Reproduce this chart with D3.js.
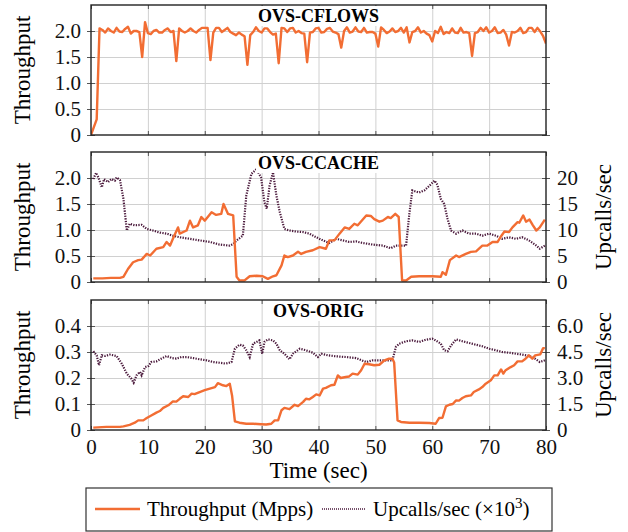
<!DOCTYPE html>
<html>
<head>
<meta charset="utf-8">
<script src="https://cdn.jsdelivr.net/npm/d3@7"></script>
<style>
  body { margin: 0; background: #fff; }
  svg, svg text { font-family: "Liberation Serif", "DejaVu Serif", serif; }
  .grid line { stroke: #d0d0d0; stroke-width: 1; }
  .grid path { display: none; }
  .ticks line { stroke: #555; stroke-width: 1; }
  .ticks path { display: none; }
  .lbl path, .lbl line { display: none; }
  .lbl text { font-size: 21px; fill: #111; font-family: "Liberation Serif", serif; }
</style>
</head>
<body>
<div id="chart"></div>
<script>
// time in seconds, throughput in Mpps
const cflowsThroughput = [
  [0,0],[0.5,0.15],[1,0.3],[1.5,2.05],[2,2.02],[2.5,1.97],[3,2.05],[3.5,2.0],[4,1.97],[4.5,2.06],
  [5,1.99],[5.5,1.98],[6,2.04],[6.5,2.08],[7,1.95],[7.5,2.0],[8,2.0],[8.5,1.98],[9,1.5],[9.5,2.17],
  [10,1.96],[10.5,1.94],[11,2.0],[11.5,2.02],[12,1.97],[12.5,1.97],[13,2.02],[13.5,2.05],[14,1.98],[14.5,2.0],
  [15,1.42],[15.5,2.05],[16,2.0],[16.5,1.97],[17,2.0],[17.5,2.05],[18,2.0],[18.5,1.97],[19,2.02],[19.5,2.06],
  [20,2.06],[20.5,2.06],[21,1.44],[21.5,1.97],[22,2.06],[22.5,2.06],[23,1.98],[23.5,2.02],[24,2.06],[24.5,1.98],
  [25,1.95],[25.5,1.92],[26,1.97],[26.5,1.93],[27,1.9],[27.5,1.35],[28,1.92],[28.5,1.98],[29,2.07],[29.5,2.0],
  [30,1.97],[30.5,2.05],[31,2.05],[31.5,1.98],[32,1.93],[32.5,1.95],[33,1.38],[33.5,2.06],[34,2.05],[34.5,1.98],
  [35,2.05],[35.5,2.06],[36,1.97],[36.5,2.0],[37,1.96],[37.5,1.95],[38,1.4],[38.5,1.97],[39,1.98],[39.5,2.05],
  [40,2.06],[40.5,1.97],[41,1.98],[41.5,2.04],[42,2.06],[42.5,1.99],[43,1.97],[43.5,1.94],[44,1.68],[44.5,2.0],
  [45,2.07],[45.5,1.97],[46,1.99],[46.5,2.07],[47,1.99],[47.5,1.98],[48,2.06],[48.5,1.97],[49,1.98],[49.5,1.98],
  [50,1.95],[50.5,1.7],[51,2.07],[51.5,2.02],[52,1.96],[52.5,1.99],[53,2.05],[53.5,1.98],[54,2.0],[54.5,2.06],
  [55,1.97],[55.5,2.07],[56,1.78],[56.5,1.98],[57,2.0],[57.5,2.07],[58,1.97],[58.5,2.0],[59,1.95],[59.5,1.92],
  [60,1.8],[60.5,2.0],[61,1.96],[61.5,2.08],[62,1.94],[62.5,1.98],[63,1.96],[63.5,2.05],[64,1.97],[64.5,1.96],
  [65,2.06],[65.5,1.97],[66,1.98],[66.5,1.96],[67,1.52],[67.5,1.96],[68,1.98],[68.5,2.06],[69,2.0],[69.5,2.07],
  [70,1.97],[70.5,2.0],[71,2.07],[71.5,1.96],[72,1.97],[72.5,2.02],[73,1.93],[73.5,1.72],[74,1.98],[74.5,1.97],
  [75,2.0],[75.5,2.06],[76,1.96],[76.5,1.98],[77,2.06],[77.5,2.06],[78,1.98],[78.5,2.06],[79,1.99],[79.5,1.9],
  [80,1.76]
];

const ccacheThroughput = [
  [0.4,0.07],[2,0.07],[3.5,0.08],[5.1,0.08],[5.7,0.1],[6.5,0.25],[7.4,0.38],[8.3,0.42],[8.9,0.43],[9.8,0.54],
  [10.4,0.51],[11.5,0.64],[12.7,0.67],[13.3,0.77],[13.9,0.7],[14.4,0.83],[15.3,1.05],[15.6,0.93],[16.8,0.99],[17.4,1.18],
  [17.95,1.05],[18.8,1.09],[19.4,1.25],[20,1.18],[21.2,1.34],[22,1.29],[22.9,1.31],[23.3,1.5],[24.1,1.31],[25,1.28],
  [25.6,0.1],[26.1,0.03],[27,0.03],[27.9,0.11],[29.1,0.12],[30.2,0.11],[31.1,0.06],[32,0.11],[32.6,0.13],[33.5,0.32],
  [34,0.51],[34.6,0.48],[35.5,0.51],[36.4,0.58],[36.96,0.54],[37.8,0.58],[39,0.61],[40.2,0.67],[41.3,0.64],[41.9,0.8],
  [42.8,0.8],[43.7,0.93],[44.6,1.05],[45.4,1.02],[46.3,1.12],[46.9,1.09],[48.4,1.28],[49.2,1.27],[49.8,1.21],[50.7,1.16],
  [51.3,1.18],[52.2,1.25],[52.7,1.23],[53.5,1.31],[54.1,1.25],[54.7,0.03],[55.4,0.03],[56.3,0.1],[57.7,0.11],[58.9,0.11],
  [60,0.11],[61.5,0.1],[61.8,0.19],[62.4,0.14],[63.1,0.42],[64.2,0.51],[64.7,0.48],[65.9,0.54],[66.8,0.58],[67.7,0.59],
  [68.8,0.7],[69.7,0.7],[70.6,0.77],[71.5,0.77],[72.1,0.88],[72.7,0.97],[73.5,0.96],[74.1,1.05],[75,1.15],[75.3,1.14],
  [76,1.28],[76.5,1.16],[77.1,1.2],[77.7,1.09],[78.3,0.99],[78.9,1.05],[79.8,1.2]
];

// upcalls in thousands per second
const ccacheUpcalls = [
  [0.4,19.8],[0.9,21],[1.3,20.1],[1.9,18.2],[2.3,19.8],[3,19.2],[3.6,19.8],[4.2,19.5],[4.5,20.1],[5.1,19.6],
  [5.7,16],[6.3,9.9],[6.8,11.2],[7.7,10.9],[8.9,11],[9.8,10.2],[10.9,9.9],[12.1,9.5],[13.3,9.3],[14.4,8.9],
  [15.6,8.6],[17.4,8.3],[19.1,8],[20.9,7.7],[22.6,7.2],[24.4,7.0],[25,7.3],[25.6,8],[26.7,8.9],[27.3,16.6],
  [28.2,20.8],[29.1,21.7],[29.9,20.1],[30.5,15.3],[30.9,14.1],[31.4,18.5],[32,21.1],[32.6,16.6],[33.2,13.4],[34,10.2],
  [34.9,9.9],[36.1,9.7],[37.3,9.6],[38.4,9.3],[39.6,8.6],[40.8,8],[41.9,7.5],[43.1,8.3],[44.3,8],[45.4,7.7],
  [46.6,7.8],[47.8,7.5],[49.5,7.2],[51.3,7.0],[52.7,6.5],[53.6,7.0],[55.4,7.0],[56,13.4],[56.5,17.6],[57.1,17.4],
  [57.7,17.2],[58.6,17.6],[59.5,18.5],[60.4,19.5],[60.9,18.7],[61.5,16],[62.1,15],[62.7,12.1],[63.3,9.9],[64.2,9.3],
  [65.3,9.9],[66.5,9.3],[67.7,9.3],[68.8,8.9],[70,9.3],[71.2,8.9],[72.3,8.3],[73.5,8.6],[74.7,8.3],[75.8,8.6],
  [77,8],[78.3,7.0],[78.9,6.4],[79.8,7.0]
];

const origThroughput = [
  [0.4,0.009],[2.7,0.012],[5.1,0.012],[5.7,0.014],[6.8,0.02],[7.7,0.028],[8.3,0.037],[9.2,0.037],[9.8,0.046],[10.6,0.056],
  [11.5,0.067],[12.1,0.073],[12.7,0.085],[13.6,0.095],[14.4,0.11],[15,0.109],[15.6,0.12],[16.2,0.13],[17.1,0.127],[17.7,0.14],
  [18.2,0.138],[19.1,0.146],[20,0.153],[20.9,0.159],[21.8,0.165],[22.3,0.18],[23.2,0.172],[23.8,0.169],[24.4,0.178],[24.8,0.133],
  [25.3,0.033],[26.1,0.028],[27.3,0.024],[28.5,0.024],[29.9,0.022],[30.8,0.021],[31.7,0.024],[32.3,0.037],[32.9,0.037],[33.5,0.076],
  [34,0.085],[34.9,0.08],[35.8,0.097],[36.4,0.092],[37.3,0.108],[37.8,0.12],[38.4,0.118],[39,0.127],[39.6,0.137],[40.2,0.133],
  [40.8,0.159],[41.3,0.162],[42.2,0.172],[42.8,0.174],[43.4,0.21],[43.9,0.2],[44.8,0.204],[45.4,0.206],[46,0.217],[46.9,0.213],
  [47.5,0.23],[48.1,0.255],[48.9,0.253],[49.8,0.249],[50.7,0.251],[51.6,0.268],[52.4,0.274],[53,0.274],[53.3,0.26],[53.9,0.037],
  [54.5,0.031],[56,0.028],[57.7,0.028],[59.5,0.027],[60.6,0.024],[61.2,0.046],[61.8,0.047],[62.4,0.091],[63,0.097],[63.6,0.1],
  [64.2,0.114],[64.7,0.113],[65.3,0.123],[65.9,0.13],[66.8,0.133],[67.3,0.146],[68.2,0.156],[68.8,0.165],[69.4,0.178],[70.3,0.191],
  [70.9,0.21],[71.5,0.21],[72.1,0.233],[72.5,0.217],[72.9,0.23],[73.8,0.242],[74.4,0.249],[75,0.264],[75.8,0.264],[76.4,0.274],
  [77,0.287],[77.6,0.274],[78.1,0.287],[79,0.291],[79.5,0.315],[79.8,0.315]
];

const origUpcalls = [
  [0.4,4.54],[1,4.31],[1.4,3.73],[1.9,4.31],[2.5,4.27],[3.3,4.35],[4.5,4.27],[5.4,3.83],[6.3,3.25],[7.1,2.96],
  [7.5,2.73],[8,3.15],[8.6,3.35],[8.9,3.15],[9.5,3.63],[10.1,3.69],[10.6,3.92],[11.5,3.96],[12.4,4.12],[13.3,4.27],
  [14.2,4.15],[15,4.12],[15.9,4.21],[16.8,4.21],[18,4.15],[19.1,4.08],[20.3,4.02],[21.5,3.92],[22.6,3.88],[23.7,3.83],
  [24.7,3.92],[25.3,4.69],[26.1,4.92],[26.7,4.88],[27.3,4.6],[27.9,4.21],[28.5,4.98],[29.1,5.08],[29.6,5.17],[30.1,4.4],
  [30.5,5.08],[31.1,5.23],[32,5.17],[32.6,4.98],[33.2,4.6],[34,4.4],[34.9,4.08],[35.5,4.4],[36.7,4.69],[37.8,4.6],
  [39,4.46],[39.9,4.21],[40.5,4.4],[41.6,4.31],[43.1,4.25],[44.8,4.21],[46.6,4.15],[48.4,3.92],[49.5,4.02],[51.3,4.02],
  [53,4.02],[53.6,4.79],[54.2,4.98],[55.4,5.12],[56.5,5.17],[57.7,5.08],[58.9,5.21],[60,5.27],[60.6,5.17],[61.5,4.98],
  [62.1,4.6],[62.7,4.54],[63.3,4.88],[64.2,5.23],[65.3,5.12],[66.5,5.02],[67.7,4.92],[68.8,4.83],[70,4.69],[71.2,4.6],
  [72.3,4.5],[73.5,4.46],[74.7,4.4],[75.8,4.35],[77,4.27],[77.9,4.15],[78.9,3.92],[79.8,4.02]
];

const xTicks = [0, 10, 20, 30, 40, 50, 60, 70, 80];
const leftTicksBig = [0, 0.5, 1.0, 1.5, 2.0];
const leftTickLabelsBig = ["0", "0.5", "1.0", "1.5", "2.0"];
const leftTicksSmall = [0, 0.1, 0.2, 0.3, 0.4];
const leftTickLabelsSmall = ["0", "0.1", "0.2", "0.3", "0.4"];
const rightTicksCcache = [0, 5, 10, 15, 20];
const rightTickLabelsCcache = ["0", "5", "10", "15", "20"];
const rightTicksOrig = [0, 1.5, 3.0, 4.5, 6.0];
const rightTickLabelsOrig = ["0", "1.5", "3.0", "4.5", "6.0"];

const orange = "#f26d33";
const purple = "#4b1a3c";

let svg = d3.select("#chart").append("svg")
    .attr("width", 628)
    .attr("height", 532);

let left = 91, right = 546, plotH = 130;
let x = d3.scaleLinear().domain([0, 80]).range([left, right]);

let panels = [
    {title: "OVS-CFLOWS", top: 5, yMax: 2.5, ticks: leftTicksBig, labels: leftTickLabelsBig,
     thr: cflowsThroughput, up: null},
    {title: "OVS-CCACHE", top: 152, yMax: 2.5, ticks: leftTicksBig, labels: leftTickLabelsBig,
     thr: ccacheThroughput, up: ccacheUpcalls, upMax: 25, rTicks: rightTicksCcache, rLabels: rightTickLabelsCcache},
    {title: "OVS-ORIG", top: 300, yMax: 0.5, ticks: leftTicksSmall, labels: leftTickLabelsSmall,
     thr: origThroughput, up: origUpcalls, upMax: 7.5, rTicks: rightTicksOrig, rLabels: rightTickLabelsOrig}
];

panels.forEach((p, i) => {
    let y = d3.scaleLinear().domain([0, p.yMax]).range([p.top + plotH, p.top]);
    let g = svg.append("g");
    let bottom = p.top + plotH;

    g.append("clipPath").attr("id", "clip" + i)
        .append("rect").attr("x", left).attr("y", p.top).attr("width", right - left).attr("height", plotH);

    // grid
    g.append("g").attr("class", "grid")
        .attr("transform", "translate(0," + bottom + ")")
        .call(d3.axisBottom(x).tickValues(xTicks.slice(1, -1)).tickSize(-plotH).tickFormat(""));
    g.append("g").attr("class", "grid")
        .attr("transform", "translate(" + left + ",0)")
        .call(d3.axisLeft(y).tickValues(p.ticks.slice(1)).tickSize(-(right - left)).tickFormat(""));

    // small tick marks, inside and outside
    g.append("g").attr("class", "ticks").attr("transform", "translate(" + left + ",0)")
        .call(d3.axisLeft(y).tickValues(p.ticks).tickSize(4).tickFormat(""));
    g.append("g").attr("class", "ticks").attr("transform", "translate(" + right + ",0)")
        .call(d3.axisRight(y).tickValues(p.ticks).tickSize(4).tickFormat(""));
    g.append("g").attr("class", "ticks").attr("transform", "translate(" + left + ",0)")
        .call(d3.axisLeft(y).tickValues(p.ticks).tickSize(-4).tickFormat(""));
    g.append("g").attr("class", "ticks").attr("transform", "translate(" + right + ",0)")
        .call(d3.axisRight(y).tickValues(p.ticks).tickSize(-4).tickFormat(""));
    g.append("g").attr("class", "ticks").attr("transform", "translate(0," + bottom + ")")
        .call(d3.axisBottom(x).tickValues(xTicks).tickSize(-4).tickFormat(""));
    g.append("g").attr("class", "ticks").attr("transform", "translate(0," + p.top + ")")
        .call(d3.axisTop(x).tickValues(xTicks).tickSize(-4).tickFormat(""));

    // left labels
    g.append("g").attr("class", "lbl").attr("transform", "translate(" + left + ",0)")
        .call(d3.axisLeft(y).tickValues(p.ticks).tickSize(0).tickPadding(10)
            .tickFormat((d, k) => p.labels[k]));

    g.append("text")
        .attr("transform", "translate(30," + (p.top + plotH / 2) + ") rotate(-90)")
        .attr("text-anchor", "middle")
        .style("font-size", "23px")
        .text("Throughput");

    let line = d3.line().x(d => x(d[0])).y(d => y(d[1]));

    if (p.up) {
        let yr = d3.scaleLinear().domain([0, p.upMax]).range([bottom, p.top]);
        g.append("g").attr("class", "lbl").attr("transform", "translate(" + right + ",0)")
            .call(d3.axisRight(yr).tickValues(p.rTicks).tickSize(0).tickPadding(11)
                .tickFormat((d, k) => p.rLabels[k]));
        g.append("text")
            .attr("transform", "translate(611," + (p.top + plotH / 2) + ") rotate(-90)")
            .attr("text-anchor", "middle")
            .style("font-size", "23px")
            .text("Upcalls/sec");
        let upLine = d3.line().x(d => x(d[0])).y(d => yr(d[1]));
        g.append("path")
            .datum(p.up)
            .attr("clip-path", "url(#clip" + i + ")")
            .attr("fill", "none")
            .attr("stroke", purple)
            .attr("stroke-width", 2.2)
            .attr("stroke-dasharray", "1.3,1.3")
            .attr("d", upLine);
    }

    g.append("path")
        .datum(p.thr)
        .attr("clip-path", "url(#clip" + i + ")")
        .attr("fill", "none")
        .attr("stroke", orange)
        .attr("stroke-width", 2.4)
        .attr("stroke-linejoin", "round")
        .attr("d", line);

    // title on a white box
    let tg = g.append("g");
    let box = tg.append("rect").attr("fill", "#fff");
    let t = tg.append("text")
        .attr("x", (left + right) / 2)
        .attr("y", p.top + 17)
        .attr("text-anchor", "middle")
        .style("font-size", "18px")
        .style("font-weight", "bold")
        .text(p.title);
    let bb = t.node().getBBox();
    box.attr("x", bb.x - 2).attr("y", bb.y).attr("width", bb.width + 4).attr("height", bb.height);

    // frame
    g.append("rect")
        .attr("x", left).attr("y", p.top).attr("width", right - left).attr("height", plotH)
        .attr("fill", "none").attr("stroke", "#222").attr("stroke-width", 1.4);

    if (i === 2) {
        g.append("g").attr("class", "lbl").attr("transform", "translate(0," + bottom + ")")
            .call(d3.axisBottom(x).tickValues(xTicks).tickSize(0).tickPadding(9));
    }
});

svg.append("text")
    .attr("x", (left + right) / 2)
    .attr("y", 478)
    .attr("text-anchor", "middle")
    .style("font-size", "23px")
    .text("Time (sec)");

// legend
let lg = svg.append("g");
lg.append("rect")
    .attr("x", 86).attr("y", 488).attr("width", 466).attr("height", 43)
    .attr("fill", "#fff").attr("stroke", "#333").attr("stroke-width", 1.2);
lg.append("line")
    .attr("x1", 95).attr("x2", 140).attr("y1", 509).attr("y2", 509)
    .attr("stroke", orange).attr("stroke-width", 2.4);
lg.append("text")
    .attr("x", 147).attr("y", 516)
    .style("font-size", "21px")
    .text("Throughput (Mpps)");
lg.append("line")
    .attr("x1", 322).attr("x2", 366).attr("y1", 509).attr("y2", 509)
    .attr("stroke", purple).attr("stroke-width", 1.6).attr("stroke-dasharray", "1,1");
let ut = lg.append("text")
    .attr("x", 373).attr("y", 516)
    .style("font-size", "21px");
ut.append("tspan").text("Upcalls/sec (×10");
ut.append("tspan").attr("dy", -8).style("font-size", "15px").text("3");
ut.append("tspan").attr("dy", 8).text(")");
</script>
</body>
</html>
